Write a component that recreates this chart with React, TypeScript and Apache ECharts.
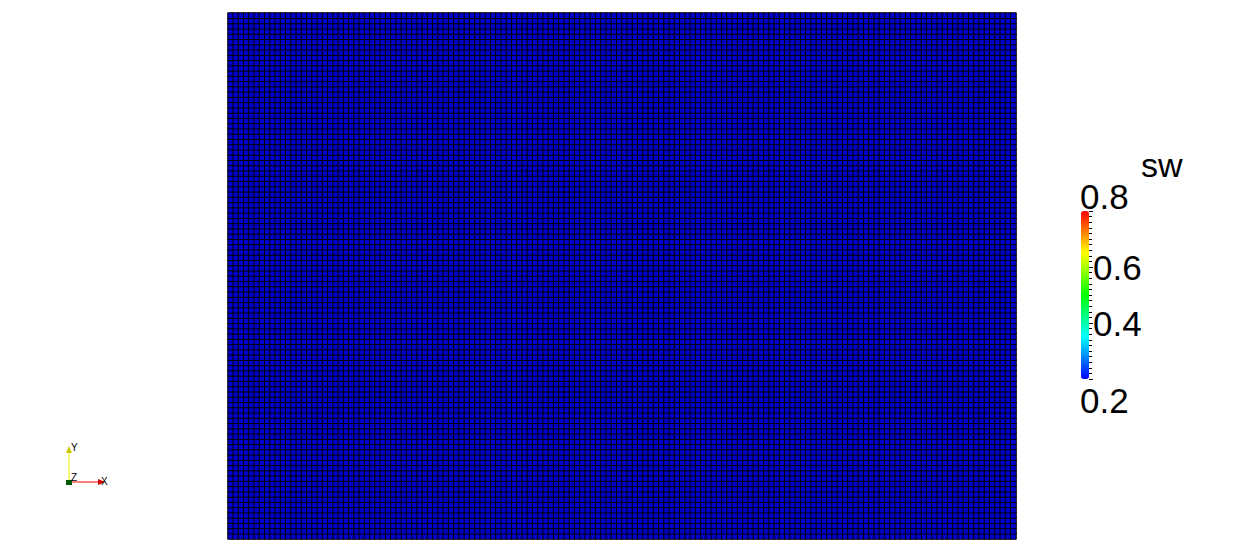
import React, { useEffect, useRef } from "react";
import * as echarts from "echarts";

// ---- data ----
const FIELD_NAME = "sw";
const NX = 150; // cells along x
const NY = 100; // cells along y
const SW_VALUE = 0.2; // uniform saturation
const SW_MIN = 0.2;
const SW_MAX = 0.8;
const COLORBAR_TICKS = [0.2, 0.4, 0.6, 0.8];
const COLORMAP = ["#0000ff", "#00ffff", "#00ff00", "#ffff00", "#ff0000"];

const xCats = Array.from({ length: NX }, (_, i) => String(i));
const yCats = Array.from({ length: NY }, (_, j) => String(j));

export default function App() {
  const ref = useRef<HTMLDivElement>(null);
  useEffect(() => {
    if (!ref.current) return;
    const chart = echarts.init(ref.current, undefined, { renderer: "svg" });
    const cells: number[][] = [];
    for (let i = 0; i < NX; i++) {
      for (let j = 0; j < NY; j++) cells.push([i, j, SW_VALUE]);
    }
    const font = "'Liberation Sans', Arial, sans-serif";
    const hi = COLORBAR_TICKS[COLORBAR_TICKS.length - 1];
    const lo = COLORBAR_TICKS[0];
    chart.setOption({
      animation: false,
      textStyle: { fontFamily: font },
      grid: [
        { left: 228, top: 13, width: 788, height: 526 },
        { left: 1081, top: 211, width: 8, height: 168 },
      ],
      xAxis: [
        { type: "category", data: xCats, gridIndex: 0, show: false },
        { type: "value", gridIndex: 1, show: false, min: 0, max: 1 },
      ],
      yAxis: [
        { type: "category", data: yCats, gridIndex: 0, show: false },
        {
          type: "value",
          gridIndex: 1,
          min: SW_MIN,
          max: SW_MAX,
          interval: 0.2,
          position: "right",
          axisLine: { show: false, onZero: false },
          axisTick: { show: true, inside: false, length: 4, lineStyle: { color: "#000", width: 1 } },
          minorTick: { show: true, splitNumber: 10, length: 3, lineStyle: { color: "#000", width: 1 } },
          splitLine: { show: false },
          axisLabel: {
            show: true,
            showMinLabel: false,
            showMaxLabel: false,
            fontSize: 35,
            color: "#000",
            margin: 4,
            padding: [8, 0, 0, 0],
            fontFamily: font,
            formatter: (v: number) => v.toFixed(1),
          },
        },
      ],
      visualMap: {
        type: "continuous",
        min: SW_MIN,
        max: SW_MAX,
        seriesIndex: 1,
        calculable: false,
        orient: "vertical",
        left: 1066,
        top: 196,
        itemWidth: 8,
        itemHeight: 168,
        inRange: { color: COLORMAP },
      },
      series: [
        {
          type: "heatmap",
          xAxisIndex: 0,
          yAxisIndex: 0,
          data: cells,
          itemStyle: { color: "#0000d0", borderColor: "#000", borderWidth: 1 },
          emphasis: { disabled: true },
        },
        {
          type: "scatter",
          xAxisIndex: 1,
          yAxisIndex: 1,
          data: [],
        },
      ],
      graphic: [
        {
          type: "text",
          left: 1141,
          top: 148,
          style: { text: FIELD_NAME, fontSize: 34, fill: "#000", fontFamily: font },
        },
        {
          type: "text",
          left: 1080,
          top: 179,
          style: { text: hi.toFixed(1), fontSize: 35, fill: "#000", fontFamily: font },
        },
        {
          type: "text",
          left: 1080,
          top: 383,
          style: { text: lo.toFixed(1), fontSize: 35, fill: "#000", fontFamily: font },
        },
        // orientation triad
        { type: "line", shape: { x1: 69, y1: 482, x2: 69, y2: 451 }, style: { stroke: "#f0f000", lineWidth: 1 } },
        { type: "polygon", shape: { points: [[66, 453], [72, 453], [69, 446]] }, style: { fill: "#c8c800" } },
        { type: "line", shape: { x1: 69, y1: 482, x2: 99, y2: 482 }, style: { stroke: "#ff0000", lineWidth: 1 } },
        { type: "polygon", shape: { points: [[98, 479], [98, 485], [105, 482]] }, style: { fill: "#d00000" } },
        { type: "rect", shape: { x: 66, y: 480, width: 6, height: 5 }, style: { fill: "#005a00" } },
        { type: "text", left: 71, top: 442, style: { text: "Y", fontSize: 10, fill: "#000", fontFamily: font } },
        { type: "text", left: 71, top: 472, style: { text: "Z", fontSize: 10, fill: "#000", fontFamily: font } },
        { type: "text", left: 101, top: 476, style: { text: "X", fontSize: 10, fill: "#000", fontFamily: font } },
      ],
    });
    return () => chart.dispose();
  }, []);
  return (
    <div
      ref={ref}
      style={{ position: "fixed", left: 0, top: 0, width: 1244, height: 552, background: "#fff" }}
    />
  );
}
